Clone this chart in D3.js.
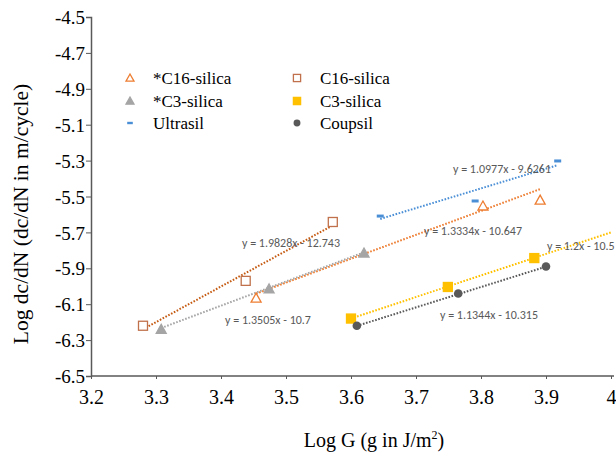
<!DOCTYPE html>
<html>
<head>
<meta charset="utf-8">
<script src="https://d3js.org/d3.v7.min.js"></script>
<style>
  body { margin: 0; background: #fff; }
  .serif { font-family: "Liberation Serif", "Times New Roman", serif; fill: #000; }
</style>
</head>
<body>
<div id="chart"></div>
<script>
// tick values
var x_ticks = [3.2, 3.3, 3.4, 3.5, 3.6, 3.7, 3.8, 3.9, 4];
var y_ticks = [-6.5, -6.3, -6.1, -5.9, -5.7, -5.5, -5.3, -5.1, -4.9, -4.7, -4.5];

// series names
var series_names = ['*C16-silica', 'C16-silica', '*C3-silica', 'C3-silica', 'Ultrasil', 'Coupsil'];

// x values (log G) and y values (log dc/dN)
var c16s_x = [3.454, 3.803, 3.891];
var c16s_y = [-6.066, -5.553, -5.52];
var c16_x = [3.28, 3.438, 3.572];
var c16_y = [-6.22, -5.97, -5.642];
var c3s_x = [3.308, 3.474, 3.62];
var c3s_y = [-6.24, -6.015, -5.815];
var c3_x = [3.6, 3.749, 3.882];
var c3_y = [-6.18, -6.004, -5.843];
var ultra_x = [3.645, 3.791, 3.918];
var ultra_y = [-5.609, -5.525, -5.302];
var coup_x = [3.609, 3.765, 3.9];
var coup_y = [-6.22, -6.04, -5.89];

// trendline slopes / intercepts
var slopes = [1.3334, 1.9828, 1.3505, 1.2, 1.0977, 1.1344];
var intercepts = [-10.647, -12.743, -10.7, -10.5, -9.6261, -10.315];
var eq_labels = ['y = 1.3334x - 10.647', 'y = 1.9828x - 12.743', 'y = 1.3505x - 10.7',
  'y = 1.2x - 10.5', 'y = 1.0977x - 9.6261', 'y = 1.1344x - 10.315'];

var chart_width = 616;
var chart_height = 452;

var svg = d3.select('#chart')
  .append('svg')
  .attr('width', chart_width)
  .attr('height', chart_height);

var x_scale = d3.scaleLinear().domain([3.2, 4]).range([91, 611]);
var y_scale = d3.scaleLinear().domain([-6.5, -4.5]).range([376, 17]);

var sans = 'Carlito, "Liberation Sans", Arial, sans-serif';

// style per series
var styles = [
  {shape: 'tri', fill: '#fff', stroke: '#ed7d31', line: '#ed7d31', extend: null, label: [473, 231]},
  {shape: 'sq', fill: '#fff', stroke: '#c0714b', line: '#c55a11', extend: null, label: [291, 243]},
  {shape: 'tri', fill: '#a5a5a5', stroke: '#a5a5a5', line: '#a5a5a5', extend: null, label: [268, 320]},
  {shape: 'sq', fill: '#ffc000', stroke: '#ffc000', line: '#ffc000', extend: 4.0, label: [547, 246]},
  {shape: 'dash', fill: '#4a8fd6', stroke: '#4a8fd6', line: '#4a8fd6', extend: null, label: [502, 169]},
  {shape: 'circ', fill: '#595959', stroke: '#595959', line: '#595959', extend: null, label: [489, 315]}
];

var all_x = [c16s_x, c16_x, c3s_x, c3_x, ultra_x, coup_x];
var all_y = [c16s_y, c16_y, c3s_y, c3_y, ultra_y, coup_y];

// plain hyphen for minus, like the original
var fmt = function(d) { return d === 4 ? '4' : d.toFixed(1); };

// axes: lines and tick marks from d3, labels written by hand in serif
var y_axis = d3.axisLeft(y_scale)
  .tickValues(y_ticks)
  .tickSize(5)
  .tickFormat('');
var yg = svg.append('g')
  .attr('transform', 'translate(91,0)')
  .call(y_axis);
yg.select('.domain').attr('stroke', '#595959').attr('stroke-width', 1.5);
yg.selectAll('.tick line').attr('stroke', '#595959');
yg.selectAll('.tick text').remove();
yg.selectAll('.tick')
  .append('text')
  .attr('class', 'serif')
  .attr('x', -6)
  .attr('dy', '0.35em')
  .attr('text-anchor', 'end')
  .style('font-size', '19px')
  .text(function(d) { return fmt(d); });

var x_axis = d3.axisBottom(x_scale)
  .tickValues(x_ticks)
  .tickSize(3)
  .tickSizeOuter(0)
  .tickFormat('');
var xg = svg.append('g')
  .attr('transform', 'translate(0,376)')
  .call(x_axis);
xg.select('.domain').attr('stroke', '#595959').attr('stroke-width', 1.5)
  .attr('d', 'M91,0H614');
xg.selectAll('.tick line').attr('stroke', '#595959');
xg.selectAll('.tick text').remove();
xg.selectAll('.tick')
  .append('text')
  .attr('class', 'serif')
  .attr('y', 21)
  .attr('dy', '0.35em')
  .attr('text-anchor', 'middle')
  .style('font-size', '20px')
  .text(function(d) { return fmt(d); });

// axis titles
svg.append('text')
  .attr('class', 'serif')
  .attr('transform', 'translate(28,214) rotate(-90)')
  .attr('text-anchor', 'middle')
  .style('font-size', '21.5px')
  .text('Log dc/dN (dc/dN in m/cycle)');

var xt = svg.append('text')
  .attr('class', 'serif')
  .attr('x', 374)
  .attr('y', 447)
  .attr('text-anchor', 'middle')
  .style('font-size', '20px');
xt.append('tspan').text('Log G (g in J/m');
xt.append('tspan').style('font-size', '12px').attr('dy', -8).text('2');
xt.append('tspan').attr('dy', 8).text(')');

// trend lines
styles.forEach(function(s, i) {
  var x0 = d3.min(all_x[i]);
  var x1 = s.extend || d3.max(all_x[i]);
  svg.append('line')
    .attr('x1', x_scale(x0))
    .attr('y1', y_scale(slopes[i] * x0 + intercepts[i]))
    .attr('x2', x_scale(x1))
    .attr('y2', y_scale(slopes[i] * x1 + intercepts[i]))
    .attr('stroke', s.line)
    .attr('stroke-width', 2)
    .attr('stroke-dasharray', '1.6,1.6');
});

// markers
function draw_marker(g, shape, x, y, s, k) {
  if (shape === 'tri') {
    g.append('path')
      .attr('d', 'M' + x + ',' + (y - 5 * k) + 'L' + (x + 5 * k) + ',' + (y + 4 * k) + 'L' + (x - 5 * k) + ',' + (y + 4 * k) + 'Z')
      .attr('fill', s.fill)
      .attr('stroke', s.stroke)
      .attr('stroke-width', 1.3);
  } else if (shape === 'sq') {
    g.append('rect')
      .attr('x', x - 4.5 * k).attr('y', y - 4.5 * k)
      .attr('width', 9 * k).attr('height', 9 * k)
      .attr('fill', s.fill)
      .attr('stroke', s.stroke)
      .attr('stroke-width', 1.3);
  } else if (shape === 'circ') {
    g.append('circle')
      .attr('cx', x).attr('cy', y).attr('r', 4.3 * k)
      .attr('fill', s.fill);
  } else {
    g.append('rect')
      .attr('x', x - 3.5 * k).attr('y', y - 1.5 * k)
      .attr('width', 7 * k).attr('height', 3 * k)
      .attr('fill', s.fill);
  }
}

styles.forEach(function(s, i) {
  all_x[i].forEach(function(xv, j) {
    draw_marker(svg, s.shape, x_scale(xv), y_scale(all_y[i][j]), s, 1);
  });
});

// equation labels
svg.selectAll('text.eq')
  .data(eq_labels)
  .enter()
  .append('text')
  .attr('class', 'eq')
  .attr('x', function(d, i) { return styles[i].label[0]; })
  .attr('y', function(d, i) { return styles[i].label[1]; })
  .attr('dy', '0.35em')
  .attr('text-anchor', function(d, i) { return i === 3 ? 'start' : 'middle'; })
  .style('font-family', sans)
  .style('font-size', '12px')
  .attr('fill', '#595959')
  .text(function(d) { return d; });

// legend
var leg_pos = [[130, 78], [297, 78], [130, 101], [297, 101], [130, 123], [297, 123]];
series_names.forEach(function(name, i) {
  var lx = leg_pos[i][0], ly = leg_pos[i][1];
  draw_marker(svg, styles[i].shape, lx, ly, styles[i], 0.8);
  svg.append('text')
    .attr('class', 'serif')
    .attr('x', lx + 23)
    .attr('y', ly)
    .attr('dy', '0.35em')
    .style('font-size', '17px')
    .text(name);
});
</script>
</body>
</html>
